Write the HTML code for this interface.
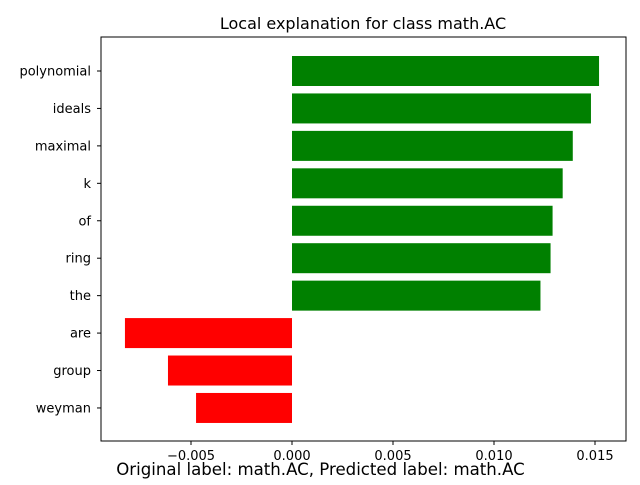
<!DOCTYPE html>
<html><head><meta charset="utf-8"><style>
body{margin:0;background:#fff}
svg text{font-family:"DejaVu Sans","Liberation Sans",sans-serif}
</style></head><body>
<svg id="chart" width="640" height="480">
<text x="363" y="29" font-size="16" text-anchor="middle">Local explanation for class math.AC</text>
<g id="bars"></g>
<rect x="101" y="37" width="525" height="404" fill="none" stroke="#000" stroke-width="1"/>
<g id="axes"></g>
<text x="320.5" y="475" font-size="16.6" text-anchor="middle">Original label: math.AC, Predicted label: math.AC</text>
</svg>
<script>
const features=["polynomial","ideals","maximal","k","of","ring","the","are","group","weyman"];
const weights=[0.0152,0.0148,0.0139,0.0134,0.0129,0.0128,0.0123,-0.00827,-0.00614,-0.00475];
const xTicks=[-0.005,0,0.005,0.010,0.015];
const xTickLabels=["−0.005","0.000","0.005","0.010","0.015"];
const ns="http://www.w3.org/2000/svg";
function xs(v){return 292+v*20200;}
function ys(i){return 71+i*37.44;}
const bars=document.getElementById('bars'),axes=document.getElementById('axes');
function mk(t,a,p){const e=document.createElementNS(ns,t);for(const k in a)e.setAttribute(k,a[k]);p.appendChild(e);return e;}
features.forEach((f,i)=>{
 const v=weights[i];
 const r=mk('rect',{x:Math.min(xs(0),xs(v)),y:ys(i)-15,width:Math.abs(xs(v)-xs(0)),height:30,fill:v>=0?'#008000':'#ff0000'},bars);
 
 
 mk('line',{x1:101,x2:97,y1:ys(i),y2:ys(i),stroke:'#000'},axes);
 const t=mk('text',{x:91,y:ys(i)+4.5,'font-size':13,'text-anchor':'end'},axes);
 t.textContent=f;
 
 
});
xTicks.forEach((v,i)=>{
 mk('line',{x1:xs(v),x2:xs(v),y1:441,y2:445,stroke:'#000'},axes);
 const t=mk('text',{x:xs(v),y:460,'font-size':13,'text-anchor':'middle'},axes);
 t.textContent=xTickLabels[i];
 
 
});
</script>
</body></html>
